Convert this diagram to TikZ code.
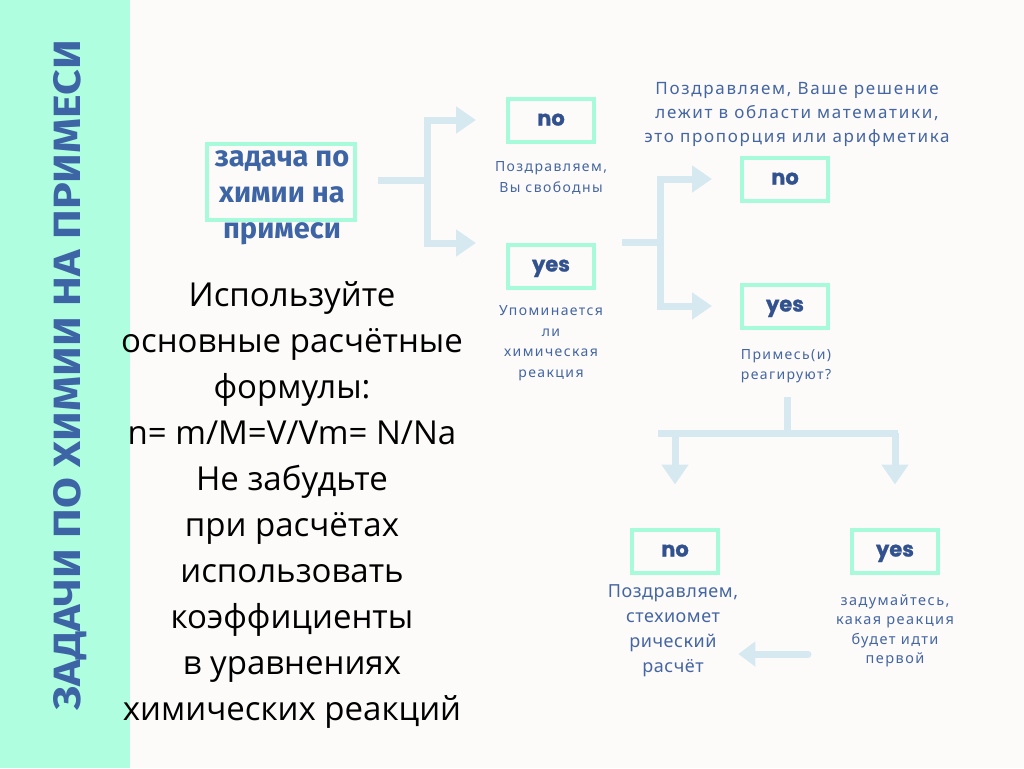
\documentclass[tikz,border=0pt]{standalone}
\usepackage{graphicx}
\usepackage{fontspec}
\setmainfont{Open Sans}
\newfontfamily\titlefont{Fira Sans}
\newfontfamily\choicefont[FakeBold=1.2]{Poppins}
\newfontfamily\taskfont{Fira Sans}
\newfontfamily\notefont[LetterSpace=10]{Noto Sans}
\newfontfamily\plainnotefont[LetterSpace=3]{Noto Sans}
\usetikzlibrary{arrows.meta}
\definecolor{stripmint}{HTML}{AEFEDF}
\definecolor{paper}{HTML}{FDFBF9}
\definecolor{boxmint}{HTML}{A8FBDA}
\definecolor{flowblue}{HTML}{D6E9F1}
\definecolor{titleblue}{HTML}{3D64A5}
\definecolor{choiceblue}{HTML}{32528F}
\definecolor{noteblue}{HTML}{4466A3}

\begin{document}
\begin{tikzpicture}[x=1pt,y=-1pt,line cap=butt,
  stem/.style={flowblue,line width=7pt},
  branch/.style={stem,-{Triangle[length=20pt,width=26pt]}},
  choice/.style={draw=boxmint,line width=4pt,minimum width=86pt,minimum height=43pt,
    inner sep=0pt,text height=11pt,text depth=0pt,text=choiceblue,
    font=\choicefont\bfseries\fontsize{21}{24}\selectfont},
  note/.style={align=center,inner sep=0pt,text=noteblue,font=\notefont\fontsize{14}{20.5}\selectfont}]
\useasboundingbox (0,0) rectangle (1024,768);
\fill[paper] (0,0) rectangle (1024,768);
\fill[stripmint] (0,0) rectangle (130,768);
\node[rotate=90,anchor=base,inner sep=0pt,text=titleblue] (title) at (80,375)
  {\resizebox{670pt}{27pt}{\titlefont\bfseries ЗАДАЧИ ПО ХИМИИ НА ПРИМЕСИ}};

% left column
\node[draw=boxmint,line width=4pt,minimum width=148pt,minimum height=76pt] (task) at (281,182) {};
\node[align=center,inner sep=0pt,text=titleblue,font=\taskfont\bfseries\fontsize{29}{36}\selectfont]
  (tasklbl) at (282,198) {задача по\\химии на\\примеси};
\node[align=center,inner sep=0pt,font=\fontsize{33}{46}\selectfont] (tips) at (292,505)
  {Используйте\\основные расчётные\\формулы:\\n= m/M=V/Vm= N/Na\\Не забудьте\\при расчётах\\использовать\\коэффициенты\\в уравнениях\\химических реакций};

% first question
\node[choice] (no1) at (551,120) {no};
\node[note] (n1) at (551,178) {Поздравляем,\\Вы свободны};
\node[choice] (yes1) at (551,266) {yes};
\node[note] (q1) at (551,343) {Упоминается\\ли\\химическая\\реакция};
\coordinate (f1in) at (378,180);
\coordinate (f1) at (427,180);
\draw[stem] (f1in) -- (f1);
\draw[branch] (f1) |- ([xshift=-30pt]no1.west);
\draw[branch] (f1) |- ([xshift=-30pt,yshift=23pt]yes1.west);

% second question
\node[note,font=\notefont\fontsize{17}{24}\selectfont] (n2) at (797,114)
  {Поздравляем, Ваше решение\\лежит в области математики,\\это пропорция или арифметика};
\node[choice] (no2) at (785,179) {no};
\node[choice] (yes2) at (785,306) {yes};
\node[note] (q2) at (786,366) {Примесь(и)\\реагируют?};
\coordinate (f2in) at (622,242);
\coordinate (f2) at (660,242);
\draw[stem] (f2in) -- (f2);
\draw[branch] (f2) |- ([xshift=-28pt]no2.west);
\draw[branch] (f2) |- ([xshift=-28pt]yes2.west);

% third question
\node[choice] (no3) at (675,551) {no};
\node[choice] (yes3) at (895,551) {yes};
\node[note,font=\plainnotefont\fontsize{18}{25}\selectfont] (r3) at (673,631)
  {Поздравляем,\\стехиомет\\рический\\расчёт};
\node[note,font=\notefont\fontsize{14.5}{19.3}\selectfont] (s3) at (895,631)
  {задумайтесь,\\какая реакция\\будет идти\\первой};
\coordinate (f3in) at (787,397);
\coordinate (f3) at (787,433);
\draw[stem] (f3in) -- (f3);
\draw[stem] (658,433) -- (898,433);
\draw[branch] (no3.north |- f3) -- ([yshift=43pt]no3.north);
\draw[branch] (yes3.north |- f3) -- ([yshift=43pt]yes3.north);
\coordinate (bk) at (808,654);
\draw[branch,line cap=round,-{Triangle[length=17pt,width=24pt]}] (bk) -- (bk -| r3.east);
\end{tikzpicture}
\end{document}
